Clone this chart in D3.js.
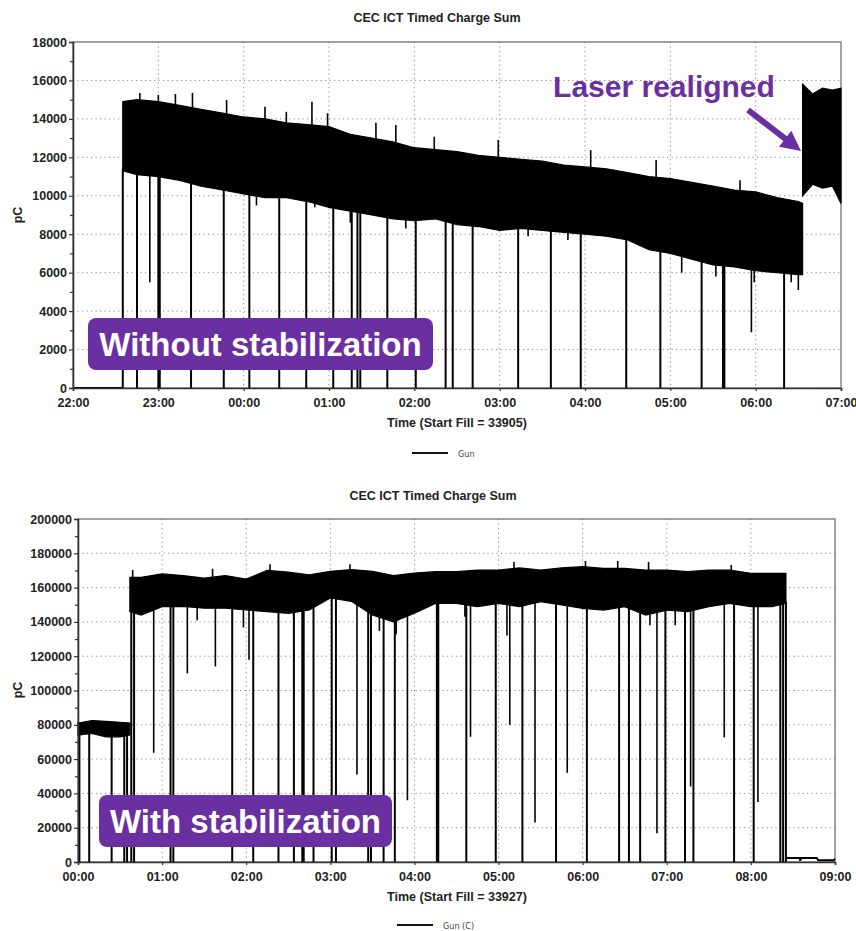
<!DOCTYPE html>
<html>
<head>
<meta charset="utf-8">
<script src="https://cdn.jsdelivr.net/npm/d3@7"></script>
<style>
  body { margin: 0; background: #fff; }
  text { font-family: "Liberation Sans", Arial, sans-serif; }
</style>
</head>
<body>
<div id="chart"></div>
<script>
// ---- top panel (fill 33905), times ----
var topYTicks = [0, 2000, 4000, 6000, 8000, 10000, 12000, 14000, 16000, 18000];
var topZeroTime = ["22:00", "22:35"];
var topZeroVal = [0, 0];
var topBandTime = ["22:35", "22:45", "23:00", "23:15", "23:30", "23:45", "00:00", "00:15", "00:30", "00:45",
  "01:00", "01:15", "01:30", "01:45", "02:00", "02:15", "02:30", "02:45", "03:00", "03:15", "03:30", "03:45",
  "04:00", "04:15", "04:30", "04:45", "05:00", "05:15", "05:30", "05:45", "06:00", "06:15", "06:30", "06:33"];
var topBandHigh = [14900, 15000, 14900, 14700, 14500, 14300, 14100, 14000, 13800, 13700,
  13600, 13200, 13000, 12800, 12500, 12400, 12300, 12100, 12000, 11900, 11800, 11600,
  11500, 11400, 11200, 11000, 10900, 10700, 10500, 10300, 10200, 9900, 9700, 9600];
var topBandLow = [11300, 11100, 11000, 10800, 10500, 10300, 10100, 9900, 9900, 9700,
  9400, 9200, 9000, 8800, 8700, 8800, 8500, 8400, 8200, 8300, 8200, 8100,
  8000, 7900, 7700, 7200, 7000, 6700, 6400, 6300, 6100, 6000, 5900, 5900];
var topRealignTime = ["06:33", "06:40", "06:47", "06:54", "07:00"];
var topRealignHigh = [15800, 15300, 15600, 15500, 15600];
var topRealignLow = [10000, 10600, 10400, 10500, 9600];
// dropouts (dip minimum) and spikes above the band
var topDropTime = ["22:35", "22:45", "22:54", "23:00", "23:01", "23:23", "23:46", "00:04", "00:09", "00:25",
  "00:44", "00:50", "01:03", "01:15", "01:16", "01:20", "01:22", "01:41", "01:54", "02:01", "02:22", "02:27",
  "02:41", "03:13", "03:20", "03:36", "03:48", "03:57", "04:29", "04:53", "05:08", "05:22", "05:32", "05:37",
  "05:38", "05:57", "05:59", "06:20", "06:25", "06:30"];
var topDropMin = [0, 0, 5500, 0, 0, 0, 0, 0, 9500, 0,
  0, 9400, 0, 8600, 0, 0, 0, 0, 8300, 0, 0, 0,
  0, 0, 7900, 0, 7700, 0, 0, 0, 6000, 0, 5800, 0,
  0, 2900, 5500, 0, 5500, 5100];
var topSpikeTime = ["22:47", "23:00", "23:12", "23:24", "23:48", "00:15", "00:30", "00:48", "00:59", "01:33",
  "01:47", "02:14", "02:59", "04:04", "04:50", "05:49"];
var topSpikeMax = [15350, 15250, 15300, 15350, 14980, 14630, 14370, 14890, 14290, 13800,
  13680, 13070, 12900, 12380, 11860, 10810];

// ---- bottom panel (fill 33927) ----
var botYTicks = [0, 20000, 40000, 60000, 80000, 100000, 120000, 140000, 160000, 180000, 200000];
var botBand1Time = ["00:00", "00:10", "00:20", "00:30", "00:37"];
var botBand1High = [81000, 82500, 82000, 81500, 81000];
var botBand1Low = [74000, 75000, 73000, 73000, 74000];
var botBand2Time = ["00:37", "00:45", "01:00", "01:15", "01:30", "01:45", "02:00", "02:15", "02:30", "02:45",
  "03:00", "03:15", "03:30", "03:45", "04:00", "04:15", "04:30", "04:45", "05:00", "05:15", "05:30", "05:45",
  "06:00", "06:15", "06:30", "06:45", "07:00", "07:15", "07:30", "07:45", "08:00", "08:15", "08:25"];
var botBand2High = [166000, 166000, 168000, 167000, 165500, 167000, 165000, 170000, 169000, 167500,
  169500, 170500, 169500, 167000, 168500, 169300, 169300, 170200, 170200, 171500, 170200, 171500,
  172200, 171200, 171200, 170200, 170200, 169300, 170200, 170200, 168300, 168300, 168300];
var botBand2Low = [146000, 144000, 148900, 149000, 148000, 148000, 147000, 146000, 145000, 147000,
  154000, 152000, 144000, 140000, 145000, 150800, 150800, 148900, 150800, 148900, 151800, 149900,
  147900, 146900, 148900, 144000, 146900, 146000, 148900, 150800, 148900, 148900, 150800];
var botTailTime = ["08:25", "08:35", "08:35", "08:36", "08:47", "08:48", "08:59", "09:00"];
var botTailVal = [2300, 2300, 800, 2300, 2300, 1000, 1000, 2000];
var botDropTime = ["00:01", "00:08", "00:24", "00:33", "00:35", "00:38", "00:40", "00:54", "01:06", "01:08",
  "01:18", "01:25", "01:38", "01:50", "01:58", "02:02", "02:05", "02:23", "02:34", "02:40", "02:41", "02:48",
  "03:01", "03:04", "03:19", "03:27", "03:29", "03:35", "03:38", "03:46", "03:47", "03:55", "04:16", "04:17",
  "04:36", "04:37", "04:40", "04:58", "05:06", "05:08", "05:17", "05:26", "05:41", "05:49", "06:03", "06:26",
  "06:33", "06:41", "06:48", "06:53", "06:59", "07:06", "07:13", "07:17", "07:19", "07:41", "07:48", "08:02",
  "08:05", "08:21", "08:23", "08:25"];
var botDropMin = [0, 0, 0, 0, 0, 0, 0, 63700, 0, 0,
  110000, 141000, 114000, 0, 136800, 118000, 0, 0, 0, 0, 0, 0,
  0, 0, 51000, 0, 0, 134700, 0, 0, 132800, 36000, 0, 0,
  143000, 0, 73000, 0, 132000, 80000, 0, 23000, 0, 52000, 0, 0,
  0, 0, 138000, 16700, 0, 138000, 0, 44000, 0, 72700, 0, 0,
  35000, 0, 0, 0];
var botSpikeTime = ["00:39", "01:36", "02:17", "03:14", "05:11", "06:02", "06:25", "06:47", "07:46"];
var botSpikeMax = [170300, 171000, 173600, 173600, 175000, 175500, 175500, 175000, 173200];

var W = 856, H = 931;
var purple = "#6a2fa0";
var parseHM = d3.timeParse("%H:%M");

var svg = d3.select("#chart").append("svg")
  .attr("width", W)
  .attr("height", H);

function panel(o) {
  // times before noon belong to the next day when the run crosses midnight
  var toDate = function(s) {
    var d = parseHM(s);
    return (o.rollover && d.getHours() < 12) ? d3.timeDay.offset(d, 1) : d;
  };
  var x = d3.scaleTime().domain([toDate(o.tStart), toDate(o.tEnd)]).range([o.x0, o.x1]);
  var y = d3.scaleLinear().domain([0, o.yTicks[o.yTicks.length - 1]]).range([o.y1, o.y0]);
  var g = svg.append("g");

  // grid
  var hours = x.ticks(d3.timeHour.every(1));
  g.selectAll(".vg").data(hours.slice(1, -1)).enter().append("line")
    .attr("x1", d => x(d)).attr("x2", d => x(d))
    .attr("y1", o.y0).attr("y2", o.y1)
    .attr("stroke", "#8a8a8a").attr("stroke-width", 1).attr("stroke-dasharray", "1.2,3.3");
  g.selectAll(".hg").data(o.yTicks.slice(1, -1)).enter().append("line")
    .attr("x1", o.x0).attr("x2", o.x1)
    .attr("y1", d => y(d)).attr("y2", d => y(d))
    .attr("stroke", "#8a8a8a").attr("stroke-width", 1).attr("stroke-dasharray", "1.2,3.3");

  // frame
  g.append("rect")
    .attr("x", o.x0).attr("y", o.y0)
    .attr("width", o.x1 - o.x0).attr("height", o.y1 - o.y0)
    .attr("fill", "none").attr("stroke", "#666").attr("stroke-width", 1.2);

  // bands
  var area = d3.area()
    .x(d => x(d.t))
    .y0(d => y(d.lo))
    .y1(d => y(d.hi));
  var segs = o.bands.map(b => b.time.map((t, i) => ({ t: toDate(t), hi: b.high[i], lo: b.low[i] })));
  segs.forEach(s => {
    g.append("path").datum(s).attr("d", area)
      .attr("fill", "#000").attr("stroke", "#000").attr("stroke-width", 1.2);
  });

  // flat lines (zero level / tail)
  var line = d3.line().x(d => x(d.t)).y(d => y(d.v));
  o.lines.forEach(l => {
    var pts = l.time.map((t, i) => ({ t: toDate(t), v: l.val[i] }));
    g.append("path").datum(pts).attr("d", line)
      .attr("fill", "none").attr("stroke", "#000").attr("stroke-width", 2);
  });

  // band edge at a given time (interpolated inside a segment, nearest end outside)
  function edgeAt(t, key) {
    for (var s of segs) {
      if (t >= s[0].t && t <= s[s.length - 1].t) {
        return d3.scaleLinear().domain(s.map(d => d.t)).range(s.map(d => d[key]))(t);
      }
    }
    var best = null, dist = Infinity;
    segs.forEach(s => {
      [s[0], s[s.length - 1]].forEach(p => {
        var dd = Math.abs(p.t - t);
        if (dd < dist) { dist = dd; best = p; }
      });
    });
    return best.hi;
  }
  var drops = o.dropTime.map((t, i) => ({ t: toDate(t), v: o.dropMin[i] }));
  g.selectAll(".drop").data(drops).enter().append("line")
    .attr("x1", d => x(d.t)).attr("x2", d => x(d.t))
    .attr("y1", d => y(d.v)).attr("y2", d => y(edgeAt(d.t, "lo")) - 2)
    .attr("stroke", "#000").attr("stroke-width", d => d.v > 0 ? 1.6 : 2);
  var spikes = o.spikeTime.map((t, i) => ({ t: toDate(t), v: o.spikeMax[i] }));
  g.selectAll(".spike").data(spikes).enter().append("line")
    .attr("x1", d => x(d.t)).attr("x2", d => x(d.t))
    .attr("y1", d => y(d.v)).attr("y2", d => y(edgeAt(d.t, "hi")) + 2)
    .attr("stroke", "#000").attr("stroke-width", 1.6);

  // axes
  var yAx = g.append("g").attr("transform", "translate(" + o.x0 + ",0)")
    .call(d3.axisLeft(y).tickValues(o.yTicks).tickSize(4).tickPadding(2).tickFormat(d3.format("d")));
  var minor = d3.range(o.yTicks[1] / 2, o.yTicks[o.yTicks.length - 1], o.yTicks[1]);
  var yMin = g.append("g").attr("transform", "translate(" + o.x0 + ",0)")
    .call(d3.axisLeft(y).tickValues(minor).tickSize(3).tickFormat(""));
  yMin.select(".domain").remove();
  var xAx = g.append("g").attr("transform", "translate(0," + o.y1 + ")")
    .call(d3.axisBottom(x).ticks(d3.timeHour.every(1)).tickSize(3).tickPadding(7)
      .tickFormat(d3.timeFormat("%H:%M")));
  [yAx, yMin, xAx].forEach(a => {
    a.selectAll(".domain").attr("stroke", "#333").attr("stroke-width", 1.6);
    a.selectAll(".tick line").attr("stroke", "#333").attr("stroke-width", 1.2);
    a.selectAll(".tick text")
      .style("font-family", "'Liberation Sans', Arial, sans-serif")
      .style("font-weight", "bold").style("font-size", "12.5px").attr("fill", "#222");
  });

  // titles
  g.append("text").attr("x", o.titleX).attr("y", o.titleY)
    .attr("text-anchor", "middle").attr("font-weight", "bold").attr("font-size", 12.5)
    .attr("fill", "#222").text(o.title);
  g.append("text").attr("x", o.xLabelX).attr("y", o.xLabelY)
    .attr("text-anchor", "middle").attr("font-weight", "bold").attr("font-size", 12.5)
    .attr("fill", "#222").text(o.xLabel);
  g.append("text")
    .attr("transform", "translate(" + o.yLabelX + "," + o.yLabelY + ") rotate(-90)")
    .attr("text-anchor", "middle").attr("font-weight", "bold").attr("font-size", 12.5)
    .attr("fill", "#222").text("pC");

  // legend
  g.append("line").attr("x1", o.legX).attr("x2", o.legX + 36)
    .attr("y1", o.legY).attr("y2", o.legY)
    .attr("stroke", "#111").attr("stroke-width", 2);
  g.append("text").attr("x", o.legX + o.legGap).attr("y", o.legY + 3.5)
    .style("font-family", "'DejaVu Sans Condensed', sans-serif").attr("font-size", 9)
    .attr("fill", "#444").text(o.legend);

  // purple label box
  g.append("rect").attr("x", o.box[0]).attr("y", o.box[1])
    .attr("width", o.box[2]).attr("height", o.box[3]).attr("rx", 8)
    .attr("fill", purple);
  g.append("text").attr("x", o.box[0] + o.box[2] / 2).attr("y", o.box[1] + 38)
    .attr("text-anchor", "middle").attr("font-weight", "bold").attr("font-size", 33)
    .attr("fill", "#fff").text(o.boxText);
}

panel({
  x0: 73, x1: 841, y0: 42, y1: 388, tStart: "22:00", tEnd: "07:00", rollover: true,
  yTicks: topYTicks,
  bands: [
    { time: topBandTime, high: topBandHigh, low: topBandLow },
    { time: topRealignTime, high: topRealignHigh, low: topRealignLow }
  ],
  lines: [{ time: topZeroTime, val: topZeroVal }],
  dropTime: topDropTime, dropMin: topDropMin,
  spikeTime: topSpikeTime, spikeMax: topSpikeMax,
  title: "CEC ICT Timed Charge Sum", titleX: 437, titleY: 22,
  xLabelX: 457, xLabelY: 427, xLabel: "Time (Start Fill = 33905)",
  yLabelX: 22, yLabelY: 215,
  legend: "Gun", legX: 412, legY: 453, legGap: 46,
  box: [88, 318, 345, 52], boxText: "Without stabilization"
});

panel({
  x0: 78, x1: 835, y0: 519, y1: 862, tStart: "00:00", tEnd: "09:00", rollover: false,
  yTicks: botYTicks,
  bands: [
    { time: botBand1Time, high: botBand1High, low: botBand1Low },
    { time: botBand2Time, high: botBand2High, low: botBand2Low }
  ],
  lines: [{ time: botTailTime, val: botTailVal }],
  dropTime: botDropTime, dropMin: botDropMin,
  spikeTime: botSpikeTime, spikeMax: botSpikeMax,
  title: "CEC ICT Timed Charge Sum", titleX: 433, titleY: 500,
  xLabelX: 457, xLabelY: 901, xLabel: "Time (Start Fill = 33927)",
  yLabelX: 22, yLabelY: 690,
  legend: "Gun (C)", legX: 397, legY: 925, legGap: 46,
  box: [99, 795, 293, 52], boxText: "With stabilization"
});

// "Laser realigned" note with arrow
svg.append("text").attr("x", 664).attr("y", 97)
  .attr("text-anchor", "middle").attr("font-weight", "bold").attr("font-size", 30)
  .attr("fill", purple).text("Laser realigned");
var a0 = [748, 110], tip = [801, 151];
var len = Math.hypot(tip[0] - a0[0], tip[1] - a0[1]);
var ux = (tip[0] - a0[0]) / len, uy = (tip[1] - a0[1]) / len;
var hl = 20, hw = 10;
var bx = tip[0] - ux * hl, by = tip[1] - uy * hl;
svg.append("line").attr("x1", a0[0]).attr("y1", a0[1]).attr("x2", bx + ux * 2).attr("y2", by + uy * 2)
  .attr("stroke", purple).attr("stroke-width", 6);
svg.append("polygon")
  .attr("points", [[tip[0], tip[1]], [bx - uy * hw, by + ux * hw], [bx + uy * hw, by - ux * hw]].map(p => p.join(",")).join(" "))
  .attr("fill", purple);
</script>
</body>
</html>
